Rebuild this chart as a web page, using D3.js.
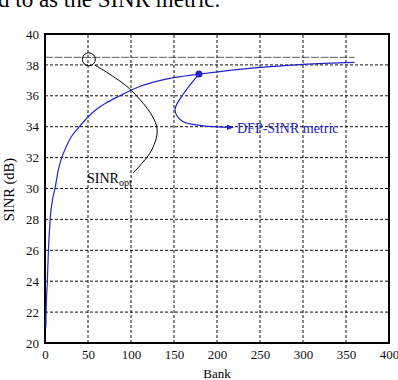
<!DOCTYPE html>
<html>
<head>
<meta charset="utf-8">
<script src="https://d3js.org/d3.v7.min.js"></script>
<style>
  body { margin: 0; background: #fff; }
  svg text { font-family: "Liberation Serif", "DejaVu Serif", serif; }
</style>
</head>
<body>
<div id="chart"></div>
<script>
// main curve
const bank = [1, 1.3, 2.7, 4, 6, 8.5, 11.6, 15.5, 19.4, 23, 30, 40, 55, 70, 87, 110, 145, 180, 215, 250, 300, 360];
const sinr = [21.0, 22.0, 24.0, 26.0, 28.0, 29.2, 30.0, 31.2, 32.0, 32.5, 33.3, 34.0, 34.9, 35.5, 36.0, 36.6, 37.13, 37.41, 37.65, 37.84, 38.04, 38.17];

// optimum level + marker
const sinrOpt = 38.49;
const optBank = [0, 360];
const optMark = {bank: 51, sinr: 38.36};
const dfpMark = {bank: 179, sinr: 37.41};

// annotation leader lines (data coords)
const optLeader = [[58, 37.99], [100.8, 36.33], [129.9, 34.0], [124.1, 32.49], [102.3, 31.0]];
const dfpLeader = [[179, 37.41], [160, 36.05], [151.2, 35.08], [159.3, 34.37], [180.2, 34.08], [218.6, 33.95]];

const xTicks = d3.range(0, 401, 50);
const yTicks = d3.range(20, 41, 2);

const W = 398, H = 380;
const m = {l: 45, r: 9, t: 34, b: 37};

const svg = d3.select("#chart").append("svg")
    .attr("width", W).attr("height", H);

// clipped running text from the page above
svg.append("text")
    .attr("x", -2).attr("y", 7)
    .attr("font-size", 23)
    .text("d to as the SINR metric.");

const x = d3.scaleLinear().domain([0, 400]).range([m.l, W - m.r]);
const y = d3.scaleLinear().domain([20, 40]).range([H - m.b, m.t]);

const blue = "#2424c8";

// grid
svg.append("g").selectAll("line")
    .data(xTicks.slice(1, -1))
    .enter().append("line")
    .attr("x1", d => x(d)).attr("x2", d => x(d))
    .attr("y1", y(20)).attr("y2", y(40))
    .attr("stroke", "#111").attr("stroke-width", 1)
    .attr("stroke-dasharray", "3,2");

svg.append("g").selectAll("line")
    .data(yTicks.slice(1, -1))
    .enter().append("line")
    .attr("x1", x(0)).attr("x2", x(400))
    .attr("y1", d => y(d)).attr("y2", d => y(d))
    .attr("stroke", "#111").attr("stroke-width", 1)
    .attr("stroke-dasharray", "3,2");

// SINR_opt level
svg.append("line")
    .attr("x1", x(optBank[0])).attr("x2", x(optBank[1]))
    .attr("y1", y(sinrOpt)).attr("y2", y(sinrOpt))
    .attr("stroke", "#333").attr("stroke-width", 0.8)
    .attr("stroke-dasharray", "8,1.5");

// axes
const xAxis = svg.append("g")
    .attr("transform", `translate(0,${y(20)})`)
    .call(d3.axisBottom(x).tickValues(xTicks).tickSize(0).tickPadding(7));
const yAxis = svg.append("g")
    .attr("transform", `translate(${x(0)},0)`)
    .call(d3.axisLeft(y).tickValues(yTicks).tickSize(0).tickPadding(6));

[xAxis, yAxis].forEach(a => {
    a.select(".domain").remove();
    a.selectAll("text")
        .attr("font-family", "Liberation Serif, serif")
        .attr("font-size", 13)
        .attr("fill", "#111");
});

// frame
svg.append("rect")
    .attr("x", x(0)).attr("y", y(40))
    .attr("width", x(400) - x(0)).attr("height", y(20) - y(40))
    .attr("fill", "none").attr("stroke", "#000").attr("stroke-width", 2);

// axis titles
svg.append("text")
    .attr("x", (x(0) + x(400)) / 2).attr("y", 378)
    .attr("text-anchor", "middle").attr("font-size", 13)
    .text("Bank");

svg.append("text")
    .attr("transform", `translate(14,${(y(20) + y(40)) / 2 + 1}) rotate(-90)`)
    .attr("text-anchor", "middle").attr("font-size", 14.5)
    .text("SINR (dB)");

// main curve
const line = d3.line()
    .x((d, i) => x(bank[i]))
    .y(d => y(d))
    .curve(d3.curveMonotoneX);

svg.append("path")
    .datum(sinr)
    .attr("d", line)
    .attr("fill", "none")
    .attr("stroke", blue)
    .attr("stroke-width", 1.2);

// annotations
const leader = d3.line()
    .x(d => x(d[0])).y(d => y(d[1]))
    .curve(d3.curveCatmullRom.alpha(0.5));

svg.append("circle")
    .attr("cx", x(optMark.bank)).attr("cy", y(optMark.sinr))
    .attr("r", 6.5)
    .attr("fill", "none").attr("stroke", "#000").attr("stroke-width", 1);

svg.append("path")
    .attr("d", leader(optLeader))
    .attr("fill", "none").attr("stroke", "#000").attr("stroke-width", 1);

const opt = svg.append("text")
    .attr("x", 87).attr("y", 183)
    .attr("font-size", 14);
opt.append("tspan").text("SINR");
opt.append("tspan").attr("font-size", 10).attr("dy", 3).text("opt");

svg.append("defs").append("marker")
    .attr("id", "arr")
    .attr("viewBox", "0 0 10 10")
    .attr("refX", 9).attr("refY", 5)
    .attr("markerWidth", 7).attr("markerHeight", 7)
    .attr("markerUnits", "userSpaceOnUse")
    .attr("orient", "auto")
    .append("path")
    .attr("d", "M0,1L10,5L0,9z")
    .attr("fill", blue);

svg.append("path")
    .attr("d", leader(dfpLeader))
    .attr("fill", "none").attr("stroke", blue).attr("stroke-width", 1.2)
    .attr("marker-end", "url(#arr)");

svg.append("circle")
    .attr("cx", x(dfpMark.bank)).attr("cy", y(dfpMark.sinr))
    .attr("r", 3.5).attr("fill", blue);

svg.append("text")
    .attr("x", 237).attr("y", 133)
    .attr("font-size", 14).attr("fill", blue)
    .text("DFP-SINR metric");
</script>
</body>
</html>
